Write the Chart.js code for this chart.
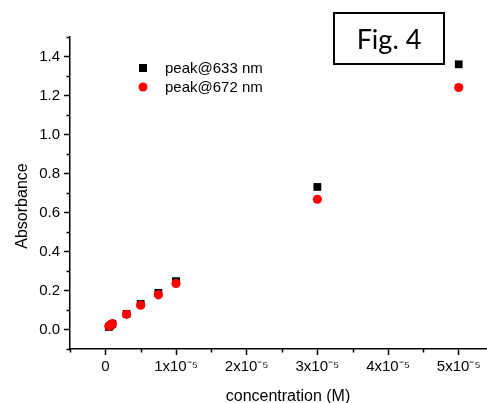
<!DOCTYPE html>
<html><head><meta charset="utf-8">
<script src="https://cdn.jsdelivr.net/npm/chart.js@4"></script>
<style>
html,body{margin:0;padding:0;background:#fff;}
#wrap{position:relative;width:487px;height:403px;overflow:hidden;}
#fig{position:absolute;left:333px;top:12px;width:108px;height:49px;border:2px solid #000;font-family:Lato,"Open Sans",sans-serif;font-size:27px;color:#000;display:flex;align-items:center;justify-content:center;}
</style></head><body>
<div id="wrap"><canvas id="c" width="487" height="403"></canvas><div id="fig">Fig. 4</div></div>
<script>
// ---- data ----
const concentrations = [5e-7, 7.5e-7, 1e-6, 3e-6, 5e-6, 7.5e-6, 1e-5, 3e-5, 5e-5];
const peak633 = [0.013, 0.021, 0.029, 0.080, 0.131, 0.188, 0.248, 0.731, 1.360];
const peak672 = [0.017, 0.023, 0.030, 0.078, 0.125, 0.178, 0.236, 0.668, 1.241];
const seriesLabels = ['peak@633 nm', 'peak@672 nm'];
const xTicks = [0, 1e-5, 2e-5, 3e-5, 4e-5, 5e-5];
const xTickLabels = ['0', '1x10\u207B\u2075', '2x10\u207B\u2075', '3x10\u207B\u2075', '4x10\u207B\u2075', '5x10\u207B\u2075'];
const xMinorTicks = [-5e-6, 5e-6, 1.5e-5, 2.5e-5, 3.5e-5, 4.5e-5];
const yTicks = [0, 0.2, 0.4, 0.6, 0.8, 1.0, 1.2, 1.4];
const yTickLabels = ['0.0', '0.2', '0.4', '0.6', '0.8', '1.0', '1.2', '1.4'];
const yMinorTicks = [-0.1, 0.1, 0.3, 0.5, 0.7, 0.9, 1.1, 1.3, 1.5];
const xTitle = 'concentration (M)';
const yTitle = 'Absorbance';

const FONT = '"Liberation Sans", Arial, sans-serif';

const extras = {
  id: 'extras',
  afterDraw(chart) {
    const ctx = chart.ctx, xs = chart.scales.x, ys = chart.scales.y, a = chart.chartArea;
    ctx.save();
    ctx.strokeStyle = '#000'; ctx.lineWidth = 1.5;
    ctx.beginPath();
    yMinorTicks.forEach(v => { const p = Math.round(ys.getPixelForValue(v)) + 0.5; ctx.moveTo(a.left - 3.5, p); ctx.lineTo(a.left, p); });
    xMinorTicks.forEach(v => { const p = Math.round(xs.getPixelForValue(v)) + 0.5; ctx.moveTo(p, a.bottom); ctx.lineTo(p, a.bottom + 3.5); });
    ctx.stroke();
    // axis titles
    ctx.fillStyle = '#000';
    ctx.font = '16px ' + FONT;
    ctx.textAlign = 'center'; ctx.textBaseline = 'alphabetic';
    ctx.fillText(xTitle, 288, 401);
    ctx.save();
    ctx.translate(27, 206); ctx.rotate(-Math.PI / 2);
    ctx.fillText(yTitle, 0, 0);
    ctx.restore();
    // legend
    const ds = chart.data.datasets;
    const lx = 143, ly = [68, 87];
    ds.forEach((d, i) => {
      ctx.fillStyle = d.backgroundColor;
      if (d.pointStyle === 'rect') { ctx.fillRect(lx - 4, ly[i] - 4, 8, 8); }
      else { ctx.beginPath(); ctx.arc(lx, ly[i], 4.5, 0, Math.PI * 2); ctx.fill(); }
      ctx.fillStyle = '#000';
      ctx.font = '15px ' + FONT;
      ctx.textAlign = 'left'; ctx.textBaseline = 'middle';
      ctx.fillText(d.label, 165, ly[i] + 1);
    });
    ctx.restore();
  }
};

new Chart(document.getElementById('c'), {
  type: 'scatter',
  data: {
    datasets: [
      { label: seriesLabels[0], data: concentrations.map((x, i) => ({ x, y: peak633[i] })), pointStyle: 'rect', pointRadius: 5.5, backgroundColor: '#000000', borderColor: '#000000', borderWidth: 0, order: 2 },
      { label: seriesLabels[1], data: concentrations.map((x, i) => ({ x, y: peak672[i] })), pointStyle: 'circle', pointRadius: 4.6, backgroundColor: '#ff0000', borderColor: '#ff0000', borderWidth: 0, order: 1 }
    ]
  },
  options: {
    responsive: false, animation: false, devicePixelRatio: 1,
    layout: { autoPadding: false, padding: { top: 37, right: 0, left: 0, bottom: 0 } },
    plugins: { legend: { display: false }, tooltip: { enabled: false } },
    scales: {
      x: {
        type: 'linear', min: -5e-6, max: 5.4e-5,
        afterBuildTicks: s => { s.ticks = xTicks.map(v => ({ value: v })); },
        afterFit: s => { s.height = 54; s.paddingLeft = 0; s.paddingRight = 0; },
        ticks: { autoSkip: false, maxRotation: 0, padding: 3, color: '#000', font: { family: FONT, size: 15 },
          callback: v => { const i = xTicks.findIndex(t => Math.abs(t - v) < 1e-9); return i >= 0 ? xTickLabels[i] : ''; } },
        grid: { display: true, drawOnChartArea: false, drawTicks: true, tickLength: 6, tickWidth: 1.5, tickColor: '#000' },
        border: { display: true, color: '#000', width: 1.5 }
      },
      y: {
        type: 'linear', min: -0.1, max: 1.5,
        afterBuildTicks: s => { s.ticks = yTicks.map(v => ({ value: v })); },
        afterFit: s => { s.width = 70; s.paddingTop = 0; s.paddingBottom = 0; },
        ticks: { autoSkip: false, padding: 4, color: '#000', font: { family: FONT, size: 15 },
          callback: v => { const i = yTicks.findIndex(t => Math.abs(t - v) < 1e-9); return i >= 0 ? yTickLabels[i] : ''; } },
        grid: { display: true, drawOnChartArea: false, drawTicks: true, tickLength: 6, tickWidth: 1.5, tickColor: '#000' },
        border: { display: true, color: '#000', width: 1.5 }
      }
    }
  },
  plugins: [extras]
});
</script>
</body></html>
